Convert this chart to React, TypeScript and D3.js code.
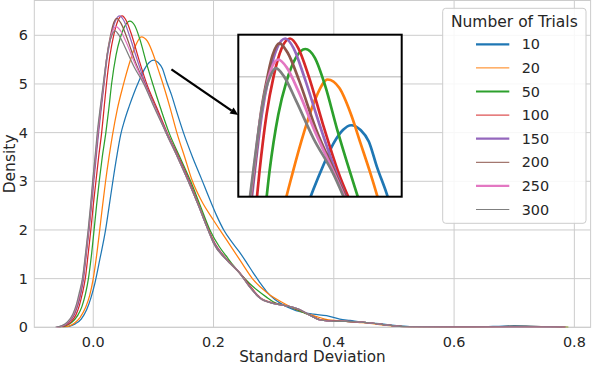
import React from "react";
import * as d3 from "d3";

type Pt = [number, number];

// KDE curves of the standard deviation, one per number of trials
const trials10: Pt[] = [
  [-0.05, 0], [-0.04, 0.02], [-0.03, 0.07], [-0.02, 0.17], [-0.011, 0.36], [-0.004, 0.6], [0.003, 0.92],
  [0.011, 1.4], [0.0205, 2.0], [0.026, 2.45], [0.032, 2.95], [0.039, 3.5], [0.0455, 3.95], [0.052, 4.25],
  [0.06, 4.55], [0.068, 4.82], [0.076, 5.06], [0.085, 5.3], [0.093, 5.44], [0.1, 5.49], [0.108, 5.44],
  [0.115, 5.32], [0.122, 5.05], [0.13, 4.78], [0.14, 4.38], [0.15, 4.0], [0.165, 3.5], [0.18, 3.05],
  [0.193, 2.65], [0.205, 2.3], [0.217, 2.0], [0.23, 1.76], [0.243, 1.55], [0.255, 1.33], [0.266, 1.12],
  [0.277, 0.92], [0.288, 0.74], [0.302, 0.57], [0.316, 0.46], [0.33, 0.38], [0.344, 0.32], [0.366, 0.27],
  [0.388, 0.24], [0.41, 0.17], [0.427, 0.14], [0.45, 0.1], [0.47, 0.08], [0.493, 0.05], [0.51, 0.03],
  [0.53, 0.015], [0.58, 0.008], [0.64, 0.01], [0.67, 0.02], [0.7, 0.035], [0.72, 0.03], [0.75, 0.01],
  [0.78, 0],
];
const trials20: Pt[] = [
  [-0.052, 0], [-0.042, 0.02], [-0.032, 0.08], [-0.022, 0.2], [-0.013, 0.4], [-0.006, 0.65], [0, 1.0],
  [0.005, 1.42], [0.01, 1.92], [0.015, 2.45], [0.02, 2.95], [0.026, 3.48], [0.032, 3.95], [0.04, 4.48],
  [0.05, 4.98], [0.06, 5.42], [0.07, 5.78], [0.08, 5.97], [0.09, 5.88], [0.1, 5.6], [0.108, 5.3],
  [0.116, 5.0], [0.128, 4.5], [0.139, 4.0], [0.152, 3.5], [0.165, 3.0], [0.18, 2.6], [0.2, 2.2],
  [0.222, 1.79], [0.244, 1.38], [0.266, 0.98], [0.29, 0.7], [0.316, 0.5], [0.33, 0.41], [0.344, 0.33],
  [0.358, 0.27], [0.371, 0.22], [0.385, 0.17], [0.4, 0.14], [0.42, 0.12], [0.44, 0.1], [0.46, 0.08],
  [0.48, 0.05], [0.51, 0.02], [0.55, 0.008], [0.62, 0.005], [0.68, 0.015], [0.72, 0.02], [0.76, 0.012],
  [0.79, 0],
];
const trials50: Pt[] = [
  [-0.056, 0], [-0.046, 0.03], [-0.036, 0.1], [-0.026, 0.24], [-0.019, 0.42], [-0.013, 0.68], [-0.008, 1.0],
  [-0.003, 1.48], [0.001, 1.95], [0.0055, 2.5], [0.01, 3.0], [0.015, 3.5], [0.021, 4.0], [0.026, 4.5],
  [0.0305, 5.0], [0.038, 5.6], [0.045, 5.95], [0.053, 6.2], [0.061, 6.29], [0.069, 6.2], [0.078, 5.9],
  [0.088, 5.45], [0.099, 5.0], [0.112, 4.5], [0.126, 4.0], [0.144, 3.5], [0.162, 3.0], [0.178, 2.5],
  [0.194, 2.0], [0.21, 1.65], [0.222, 1.45], [0.233, 1.27], [0.246, 1.08], [0.26, 0.9], [0.274, 0.75],
  [0.288, 0.62], [0.3, 0.52], [0.321, 0.44], [0.334, 0.39], [0.344, 0.33], [0.36, 0.25], [0.377, 0.16],
  [0.4, 0.13], [0.42, 0.12], [0.44, 0.11], [0.46, 0.09], [0.48, 0.06], [0.5, 0.03], [0.53, 0.01],
  [0.6, 0.004], [0.7, 0.01], [0.76, 0.008], [0.79, 0],
];
const trials100: Pt[] = [
  [-0.058, 0], [-0.048, 0.03], [-0.038, 0.1], [-0.029, 0.25], [-0.023, 0.45], [-0.018, 0.7], [-0.013, 1.02],
  [-0.0085, 1.5], [-0.004, 2.0], [0, 2.5], [0.0045, 3.0], [0.009, 3.5], [0.014, 4.0], [0.018, 4.5],
  [0.022, 5.0], [0.028, 5.6], [0.034, 6.0], [0.041, 6.3], [0.048, 6.4], [0.055, 6.3], [0.064, 6.0],
  [0.076, 5.5], [0.089, 5.0], [0.106, 4.5], [0.123, 4.0], [0.142, 3.5], [0.16, 3.0], [0.176, 2.5],
  [0.192, 2.0], [0.2, 1.78], [0.222, 1.4], [0.244, 1.12], [0.26, 0.86], [0.277, 0.62], [0.299, 0.5],
  [0.321, 0.44], [0.344, 0.35], [0.36, 0.25], [0.377, 0.16], [0.4, 0.13], [0.42, 0.12], [0.44, 0.11],
  [0.46, 0.09], [0.48, 0.06], [0.5, 0.03], [0.53, 0.01], [0.6, 0.004], [0.7, 0.008], [0.76, 0.006],
  [0.785, 0],
];
const trials150: Pt[] = [
  [-0.06, 0], [-0.05, 0.03], [-0.04, 0.11], [-0.031, 0.27], [-0.025, 0.47], [-0.02, 0.72], [-0.016, 1.0],
  [-0.0115, 1.5], [-0.007, 2.0], [-0.003, 2.5], [0.001, 3.0], [0.005, 3.5], [0.009, 4.0], [0.0135, 4.5],
  [0.018, 5.0], [0.024, 5.6], [0.03, 6.0], [0.037, 6.3], [0.044, 6.4], [0.051, 6.3], [0.06, 6.0],
  [0.073, 5.5], [0.087, 5.0], [0.104, 4.5], [0.122, 4.0], [0.141, 3.5], [0.159, 3.0], [0.175, 2.5],
  [0.191, 2.0], [0.2, 1.76], [0.222, 1.39], [0.244, 1.11], [0.26, 0.84], [0.277, 0.61], [0.299, 0.49],
  [0.321, 0.44], [0.344, 0.36], [0.36, 0.25], [0.377, 0.15], [0.4, 0.12], [0.42, 0.12], [0.44, 0.11],
  [0.46, 0.09], [0.48, 0.06], [0.5, 0.03], [0.53, 0.01], [0.6, 0.004], [0.7, 0.006], [0.77, 0.004],
  [0.785, 0],
];
const trials200: Pt[] = [
  [-0.061, 0], [-0.051, 0.03], [-0.041, 0.11], [-0.032, 0.27], [-0.026, 0.47], [-0.021, 0.72], [-0.017, 1.0],
  [-0.012, 1.5], [-0.0075, 2.0], [-0.0035, 2.5], [0, 3.0], [0.004, 3.5], [0.008, 4.0], [0.0125, 4.5],
  [0.0175, 5.0], [0.023, 5.6], [0.028, 5.95], [0.033, 6.22], [0.039, 6.35], [0.046, 6.25], [0.056, 5.95],
  [0.07, 5.45], [0.086, 5.0], [0.104, 4.5], [0.121, 4.0], [0.14, 3.5], [0.158, 3.0], [0.175, 2.5],
  [0.191, 2.0], [0.2, 1.74], [0.222, 1.38], [0.244, 1.1], [0.26, 0.83], [0.277, 0.6], [0.299, 0.49],
  [0.321, 0.44], [0.344, 0.36], [0.36, 0.25], [0.377, 0.15], [0.4, 0.12], [0.42, 0.12], [0.44, 0.11],
  [0.46, 0.09], [0.48, 0.06], [0.5, 0.03], [0.53, 0.01], [0.6, 0.004], [0.7, 0.006], [0.77, 0.005],
  [0.785, 0],
];
const trials250: Pt[] = [
  [-0.062, 0], [-0.052, 0.03], [-0.042, 0.11], [-0.033, 0.27], [-0.027, 0.47], [-0.022, 0.72], [-0.0175, 1.0],
  [-0.0125, 1.5], [-0.008, 2.0], [-0.004, 2.5], [-0.0005, 3.0], [0.0035, 3.5], [0.0075, 4.0], [0.012, 4.5],
  [0.017, 5.0], [0.022, 5.5], [0.027, 5.85], [0.032, 6.08], [0.038, 6.18], [0.045, 6.1], [0.055, 5.85],
  [0.07, 5.4], [0.085, 5.0], [0.103, 4.5], [0.121, 4.0], [0.14, 3.5], [0.158, 3.0], [0.175, 2.5],
  [0.191, 2.0], [0.2, 1.73], [0.222, 1.38], [0.244, 1.11], [0.26, 0.83], [0.277, 0.6], [0.299, 0.49],
  [0.321, 0.44], [0.344, 0.36], [0.36, 0.25], [0.377, 0.15], [0.4, 0.12], [0.42, 0.12], [0.44, 0.11],
  [0.46, 0.09], [0.48, 0.06], [0.5, 0.03], [0.53, 0.01], [0.6, 0.004], [0.7, 0.006], [0.775, 0.006],
  [0.785, 0],
];
const trials300: Pt[] = [
  [-0.063, 0], [-0.053, 0.03], [-0.043, 0.11], [-0.034, 0.27], [-0.028, 0.47], [-0.023, 0.72], [-0.018, 1.0],
  [-0.013, 1.5], [-0.0085, 2.0], [-0.0045, 2.5], [-0.001, 3.0], [0.003, 3.5], [0.0067, 4.0], [0.0115, 4.5],
  [0.0166, 5.0], [0.022, 5.5], [0.027, 5.85], [0.031, 6.0], [0.036, 6.09], [0.043, 6.0], [0.053, 5.75],
  [0.068, 5.35], [0.084, 5.0], [0.102, 4.5], [0.121, 4.0], [0.14, 3.5], [0.158, 3.0], [0.175, 2.5],
  [0.191, 2.0], [0.2, 1.73], [0.222, 1.38], [0.244, 1.11], [0.26, 0.83], [0.277, 0.6], [0.299, 0.49],
  [0.321, 0.44], [0.344, 0.36], [0.36, 0.25], [0.377, 0.15], [0.4, 0.12], [0.42, 0.12], [0.44, 0.11],
  [0.46, 0.09], [0.48, 0.06], [0.5, 0.03], [0.53, 0.01], [0.6, 0.004], [0.7, 0.006], [0.77, 0.004],
  [0.785, 0],
];

const trialLabels = ["10", "20", "50", "100", "150", "200", "250", "300"];
const trialCurves = [trials10, trials20, trials50, trials100, trials150, trials200, trials250, trials300];
const trialColors = ["#1f77b4", "#ff7f0e", "#2ca02c", "#d62728", "#9467bd", "#8c564b", "#e377c2", "#7f7f7f"];
const legendWidths = [2.2, 1, 2.2, 1, 2.2, 1, 2.2, 1];

const xTicks = [0, 0.2, 0.4, 0.6, 0.8];
const yTicks = [0, 1, 2, 3, 4, 5, 6];

// zoomed window shown in the inset
const insetXDomain = [0.004, 0.143];
const insetYDomain = [4.74, 6.44];
const insetGrid = [5, 6];

// annotation arrow, in main data coordinates
const arrowFrom: Pt = [0.13, 5.3];
const arrowTo: Pt = [0.241, 4.36];

const FONT = "DejaVu Sans";
const INK = "#262626";
const GRID = "#cccccc";

export default function App() {
  const width = 594;
  const height = 366;
  const plot = { left: 34.3, top: 0.5, right: 590.6, bottom: 327.3 };
  const inset = { left: 238.3, top: 34.7, right: 401.7, bottom: 196.7 };

  const x = d3.scaleLinear().domain([-0.098, 0.827]).range([plot.left, plot.right]);
  const y = d3.scaleLinear().domain([0, 6.715]).range([plot.bottom, plot.top]);

  const ix = d3.scaleLinear().domain(insetXDomain).range([inset.left, inset.right]);
  const iy = d3.scaleLinear().domain(insetYDomain).range([inset.bottom, inset.top]);

  const line = d3.line<Pt>()
    .x((d) => x(d[0]))
    .y((d) => y(d[1]))
    .curve(d3.curveMonotoneX);

  const insetLine = d3.line<Pt>()
    .x((d) => ix(d[0]))
    .y((d) => iy(d[1]))
    .curve(d3.curveMonotoneX);

  // arrow geometry
  const ax0 = x(arrowFrom[0]), ay0 = y(arrowFrom[1]);
  const ax1 = x(arrowTo[0]), ay1 = y(arrowTo[1]);
  const ang = Math.atan2(ay1 - ay0, ax1 - ax0);
  const headLen = 8, headHalf = 3.6;
  const bx = ax1 - headLen * Math.cos(ang), by = ay1 - headLen * Math.sin(ang);
  const head = [
    [ax1, ay1],
    [bx + headHalf * Math.sin(ang), by - headHalf * Math.cos(ang)],
    [bx - headHalf * Math.sin(ang), by + headHalf * Math.cos(ang)],
  ].map((p) => p.join(",")).join(" ");

  const legend = { x: 442.7, y: 8.3, w: 143.3, h: 215, row0: 44.3, step: 23.6 };

  return (
    <svg width={width} height={height} style={{ position: "absolute", left: 0, top: 0, display: "block" }}
      fontFamily={FONT}>
      <defs>
        <clipPath id="plotClip">
          <rect x={plot.left} y={plot.top} width={plot.right - plot.left} height={plot.bottom - plot.top} />
        </clipPath>
        <clipPath id="insetClip">
          <rect x={inset.left} y={inset.top} width={inset.right - inset.left} height={inset.bottom - inset.top} />
        </clipPath>
      </defs>
      <rect width={width} height={height} fill="#ffffff" />

      {/* grid */}
      <g stroke={GRID} strokeWidth={1}>
        {xTicks.map((t) => (
          <line key={"gx" + t} x1={x(t)} x2={x(t)} y1={plot.top} y2={plot.bottom} />
        ))}
        {yTicks.map((t) => (
          <line key={"gy" + t} x1={plot.left} x2={plot.right} y1={y(t)} y2={y(t)} />
        ))}
        <rect x={plot.left} y={plot.top} width={plot.right - plot.left} height={plot.bottom - plot.top} fill="none" />
      </g>

      {/* curves */}
      <g clipPath="url(#plotClip)" fill="none">
        {trialCurves.map((c, i) => (
          <path key={trialLabels[i]} d={line(c) || ""} stroke={trialColors[i]} strokeWidth={1.25} />
        ))}
      </g>

      {/* tick labels */}
      <g fill={INK} fontSize={14.4}>
        {xTicks.map((t) => (
          <text key={"tx" + t} x={x(t)} y={346.5} textAnchor="middle">{d3.format(".1f")(t)}</text>
        ))}
        {yTicks.map((t) => (
          <text key={"ty" + t} x={28} y={y(t)} textAnchor="end" dominantBaseline="central">{t}</text>
        ))}
      </g>
      <text x={(plot.left + plot.right) / 2} y={362.2} textAnchor="middle" fontSize={15.2} fill={INK}>
        Standard Deviation
      </text>
      <text transform={`translate(14.5,${(plot.top + plot.bottom) / 2}) rotate(-90)`} textAnchor="middle"
        fontSize={15.5} fill={INK}>
        Density
      </text>

      {/* arrow to the inset */}
      <line x1={ax0} y1={ay0} x2={bx} y2={by} stroke="#000" strokeWidth={2.3} />
      <polygon points={head} fill="#000" />

      {/* inset */}
      <rect x={inset.left} y={inset.top} width={inset.right - inset.left} height={inset.bottom - inset.top} fill="#fff" />
      <g clipPath="url(#insetClip)">
        {insetGrid.map((t) => (
          <line key={"ig" + t} x1={inset.left} x2={inset.right} y1={iy(t)} y2={iy(t)} stroke={GRID} strokeWidth={1.5} />
        ))}
        {trialCurves.map((c, i) => (
          <path key={"i" + trialLabels[i]} d={insetLine(c) || ""} fill="none" stroke={trialColors[i]} strokeWidth={2.7} />
        ))}
      </g>
      <rect x={inset.left} y={inset.top} width={inset.right - inset.left} height={inset.bottom - inset.top}
        fill="none" stroke="#000" strokeWidth={2} />

      {/* legend */}
      <rect x={legend.x} y={legend.y} width={legend.w} height={legend.h} rx={3} fill="#fff" fillOpacity={0.85}
        stroke={GRID} strokeWidth={1} />
      <text x={legend.x + legend.w / 2} y={27} textAnchor="middle" fontSize={15.5} fill={INK}>Number of Trials</text>
      {trialLabels.map((lab, i) => {
        const ry = legend.row0 + i * legend.step;
        return (
          <g key={"lg" + lab}>
            <line x1={476} x2={509.3} y1={ry} y2={ry} stroke={trialColors[i]} strokeWidth={legendWidths[i]} />
            <text x={521.7} y={ry} dominantBaseline="central" fontSize={14.4} fill={INK}>{lab}</text>
          </g>
        );
      })}
    </svg>
  );
}
